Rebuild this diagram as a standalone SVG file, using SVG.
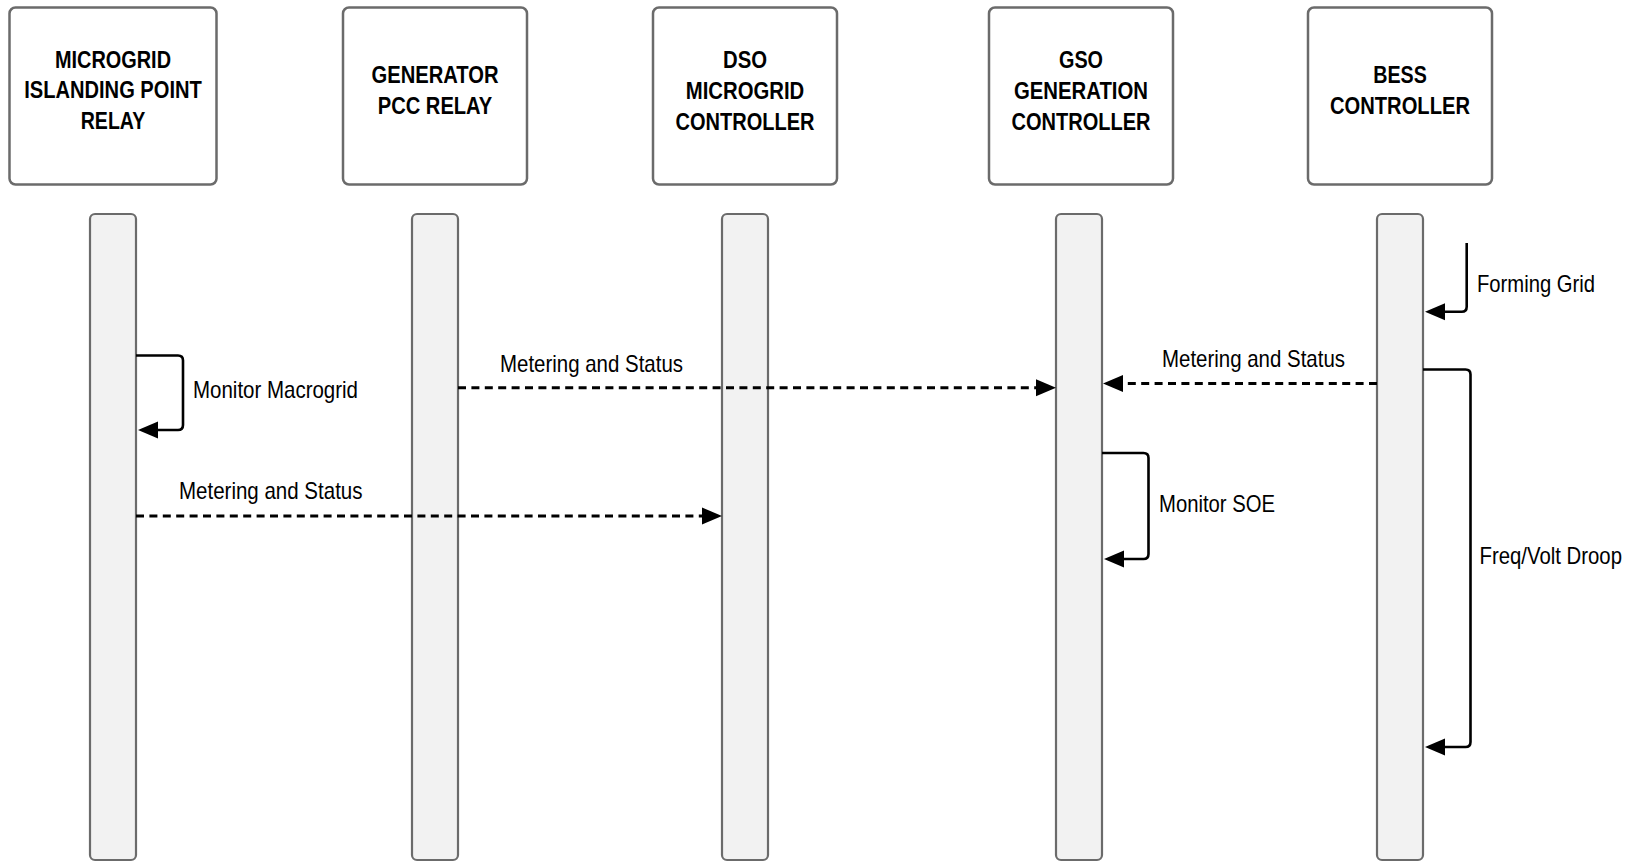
<svg xmlns="http://www.w3.org/2000/svg" width="1636" height="862" viewBox="0 0 1636 862">
<style>
.box{fill:#ffffff;stroke:#6b6b6b;stroke-width:2.5}
.bar{fill:#f2f2f2;stroke:#6b6b6b;stroke-width:2.2}
.hd{font-family:"Liberation Sans Narrow","Liberation Sans",Arial,sans-serif;font-weight:bold;font-size:23.5px;fill:#000;text-anchor:middle}
.lb{font-family:"Liberation Sans Narrow","Liberation Sans",Arial,sans-serif;font-size:24px;fill:#000}
.solid{fill:none;stroke:#000;stroke-width:2.6;marker-end:url(#ah)}
.dash{fill:none;stroke:#000;stroke-width:3;stroke-dasharray:8 5.4;marker-end:url(#ah)}
</style>
<defs>
<marker id="ah" markerUnits="userSpaceOnUse" markerWidth="21" markerHeight="18" refX="0" refY="8.5" orient="auto" viewBox="0 0 21 17">
<path d="M0,0 L20,8.5 L0,17 z" fill="#000"/>
</marker>
</defs>
<rect width="1636" height="862" fill="#ffffff"/>

<g id="node-migr">
<rect class="box" x="9.5" y="7.5" width="207" height="177" rx="6"/>
<text class="hd" x="113" y="67.5" textLength="116" lengthAdjust="spacingAndGlyphs">MICROGRID</text>
<text class="hd" x="113" y="97.5" textLength="177.5" lengthAdjust="spacingAndGlyphs">ISLANDING POINT</text>
<text class="hd" x="113" y="128.5" textLength="64.5" lengthAdjust="spacingAndGlyphs">RELAY</text>
</g>
<g id="node-gen">
<rect class="box" x="343" y="7.5" width="184" height="177" rx="6"/>
<text class="hd" x="435" y="83" textLength="127" lengthAdjust="spacingAndGlyphs">GENERATOR</text>
<text class="hd" x="435" y="114" textLength="114.5" lengthAdjust="spacingAndGlyphs">PCC RELAY</text>
</g>
<g id="node-dso">
<rect class="box" x="653" y="7.5" width="184" height="177" rx="6"/>
<text class="hd" x="745" y="68" textLength="44" lengthAdjust="spacingAndGlyphs">DSO</text>
<text class="hd" x="745" y="99" textLength="118.5" lengthAdjust="spacingAndGlyphs">MICROGRID</text>
<text class="hd" x="745" y="129.5" textLength="139" lengthAdjust="spacingAndGlyphs">CONTROLLER</text>
</g>
<g id="node-gso">
<rect class="box" x="989" y="7.5" width="184" height="177" rx="6"/>
<text class="hd" x="1081" y="68" textLength="44" lengthAdjust="spacingAndGlyphs">GSO</text>
<text class="hd" x="1081" y="99" textLength="134" lengthAdjust="spacingAndGlyphs">GENERATION</text>
<text class="hd" x="1081" y="129.5" textLength="139" lengthAdjust="spacingAndGlyphs">CONTROLLER</text>
</g>
<g id="node-bess">
<rect class="box" x="1308" y="7.5" width="184" height="177" rx="6"/>
<text class="hd" x="1400" y="83" textLength="53.5" lengthAdjust="spacingAndGlyphs">BESS</text>
<text class="hd" x="1400" y="114" textLength="140" lengthAdjust="spacingAndGlyphs">CONTROLLER</text>
</g>

<g id="lifelines">
<rect class="bar" x="90" y="214" width="46" height="646" rx="5"/>
<rect class="bar" x="412" y="214" width="46" height="646" rx="5"/>
<rect class="bar" x="722" y="214" width="46" height="646" rx="5"/>
<rect class="bar" x="1056" y="214" width="46" height="646" rx="5"/>
<rect class="bar" x="1377" y="214" width="46" height="646" rx="5"/>
</g>

<g id="connectors">
<path class="solid" d="M1466.7,243 V306.7 Q1466.7,311.7 1461.7,311.7 H1445"/>
<path class="solid" d="M136,355.5 H178 Q183,355.5 183,360.5 V425 Q183,430 178,430 H158"/>
<path class="dash" d="M458,387.7 H1036"/>
<path class="dash" d="M1377,383.5 H1123"/>
<path class="solid" d="M1423,369.5 H1465.5 Q1470.5,369.5 1470.5,374.5 V742 Q1470.5,747 1465.5,747 H1445"/>
<path class="solid" d="M1102,453 H1143.5 Q1148.5,453 1148.5,458 V554 Q1148.5,559 1143.5,559 H1124"/>
<path class="dash" d="M136,516 H702"/>
</g>

<g id="labels">
<text class="lb" x="1477" y="292" textLength="118" lengthAdjust="spacingAndGlyphs">Forming Grid</text>
<text class="lb" x="193" y="398" textLength="165" lengthAdjust="spacingAndGlyphs">Monitor Macrogrid</text>
<text class="lb" x="500" y="371.5" textLength="183" lengthAdjust="spacingAndGlyphs">Metering and Status</text>
<text class="lb" x="1162" y="367" textLength="183" lengthAdjust="spacingAndGlyphs">Metering and Status</text>
<text class="lb" x="179" y="499.3" textLength="183.5" lengthAdjust="spacingAndGlyphs">Metering and Status</text>
<text class="lb" x="1159" y="511.7" textLength="116" lengthAdjust="spacingAndGlyphs">Monitor SOE</text>
<text class="lb" x="1479.5" y="563.5" textLength="142.5" lengthAdjust="spacingAndGlyphs">Freq/Volt Droop</text>
</g>
</svg>
